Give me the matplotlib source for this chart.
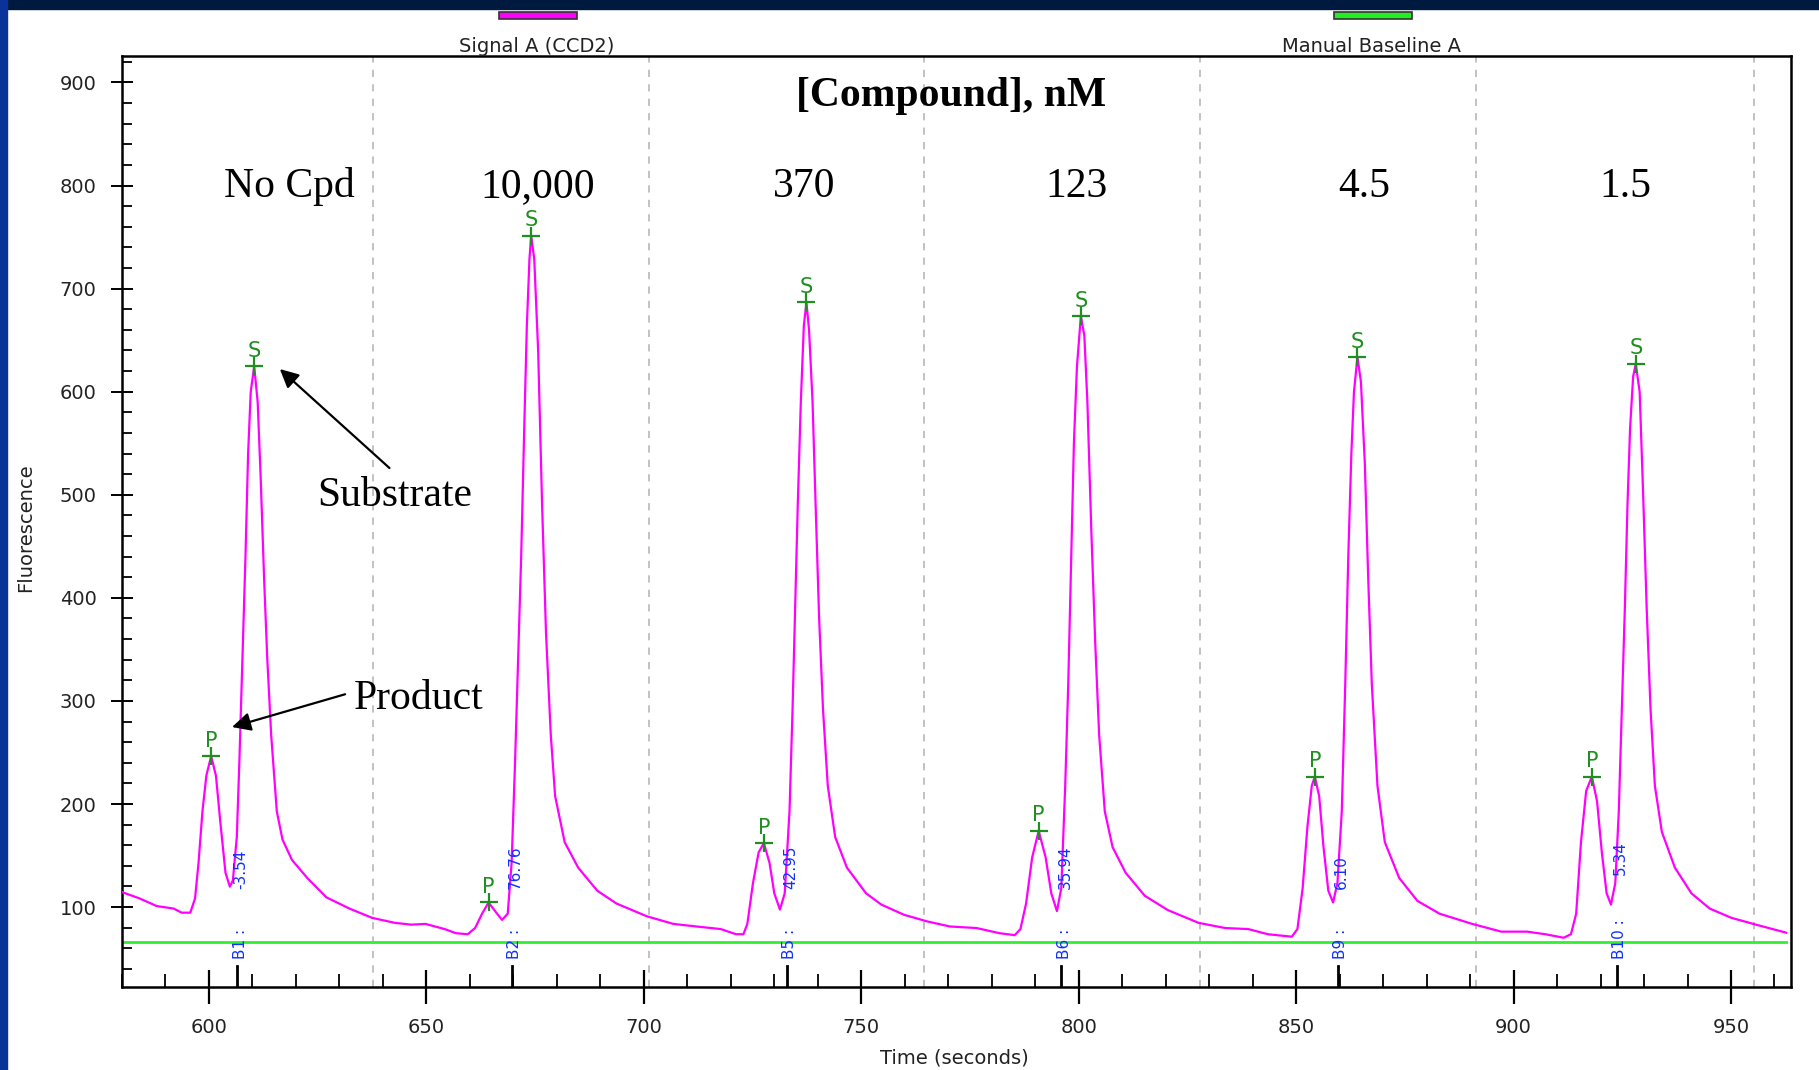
import matplotlib
matplotlib.use("Agg")
import matplotlib.pyplot as plt
from matplotlib.patches import Rectangle
from matplotlib.ticker import MultipleLocator

# electropherogram trace (time in s, fluorescence)
time_s = [
    580.1, 584.0, 588.0, 591.9, 593.7, 595.7, 596.8, 597.6, 598.5, 599.4,
    600.5, 601.6, 602.6, 603.8, 604.8, 605.5, 606.4, 607.0, 607.7, 608.4,
    609.0, 609.6, 610.4, 611.2, 611.9, 612.7, 613.4, 614.3, 615.6, 616.9,
    619.1, 622.6, 627.0, 632.3, 637.5, 642.8, 646.5, 649.8, 654.2, 656.8,
    659.5, 661.2, 662.8, 664.3, 665.8, 667.4, 668.7, 669.6, 670.4, 671.1,
    671.8, 672.5, 673.1, 673.7, 674.1, 674.8, 675.7, 676.6, 677.5, 678.6,
    679.6, 681.8, 684.9, 689.3, 693.7, 700.7, 706.8, 712.1,
    717.7, 721.2, 722.9, 723.8, 725.1, 726.4, 727.6, 728.9, 730.0, 731.3,
    732.4, 733.5, 734.2, 734.8, 735.4, 736.1, 736.8, 737.4, 738.0, 738.8,
    739.5, 740.3, 741.2, 742.3, 744.0, 746.7, 751.1, 754.6, 759.8, 765.1,
    770.4, 776.5, 781.8, 785.3, 786.6, 787.9, 789.3, 790.8, 792.4, 793.7,
    795.0, 796.0, 796.9, 797.6, 798.3, 798.9, 799.6, 800.5, 801.3, 802.0,
    802.9, 803.8, 804.7, 806.0, 807.8, 810.8, 815.2, 820.5, 827.6, 833.7,
    839.0, 843.5, 849.0, 850.3, 851.5, 852.6, 853.6, 854.3, 855.3, 856.3,
    857.4, 858.5, 859.5, 860.5, 861.3, 862.0, 862.7, 863.3, 864.1, 864.9,
    865.8, 866.6, 867.4, 868.7, 870.4, 873.7, 877.9, 883.0, 890.5, 897.2,
    903.1, 907.3, 911.5, 913.2, 914.4, 915.5, 916.7, 918.0, 919.2, 920.3,
    921.4, 922.4, 923.4, 924.2, 924.9, 925.6, 926.2, 926.8, 927.5, 928.1,
    929.0, 929.8, 930.6, 931.5, 932.5, 934.1, 937.1, 940.9, 945.1, 950.1,
    956.0, 962.7,
]
fluor = [
    114.4, 108.5, 101.0, 98.6, 94.6, 94.6, 108.5, 143.0, 192.9, 227.6,
    246.5, 227.6, 183.0, 133.3, 119.9, 125.9, 168.0, 242.5, 341.7, 441.0,
    540.0, 599.8, 624.6, 590.0, 515.4, 416.0, 341.7, 267.3, 192.9, 165.6,
    145.7, 128.3, 109.5, 98.6, 89.6, 84.7, 83.0, 83.7, 78.7, 74.7,
    73.7, 79.7, 93.6, 104.5, 96.1, 87.6, 93.6, 143.0, 242.5, 341.7,
    441.0, 565.0, 664.5, 728.8, 751.2, 728.8, 639.5, 490.7, 366.5, 267.3,
    207.7, 163.0, 138.3, 115.9, 103.5, 91.1, 83.7, 81.2,
    78.7, 73.7, 73.7, 83.7, 123.4, 153.1, 162.1, 143.0, 113.4, 97.6,
    113.4, 192.9, 292.1, 391.4, 490.6, 590.0, 664.5, 686.6, 659.5, 590.0,
    490.6, 381.4, 292.1, 217.7, 168.0, 138.3, 113.4, 102.5, 92.6, 86.2,
    81.2, 79.7, 74.7, 72.8, 78.7, 103.5, 148.2, 174.0, 148.2, 113.4,
    96.1, 118.4, 217.7, 316.9, 441.0, 550.0, 624.6, 673.3, 654.4, 590.0,
    465.8, 356.6, 267.3, 192.9, 158.1, 133.3, 111.0, 97.1, 84.7, 79.7,
    78.7, 73.7, 71.3, 78.7, 118.4, 178.0, 217.7, 226.6, 207.7, 158.1,
    116.0, 104.5, 123.4, 192.9, 316.9, 441.0, 540.0, 599.8, 633.6, 609.7,
    530.2, 416.0, 316.9, 217.7, 163.0, 128.3, 106.0, 93.6, 83.7, 76.2,
    76.2, 73.7, 70.3, 73.7, 93.6, 163.0, 212.7, 226.6, 202.8, 153.1,
    113.4, 102.5, 123.4, 192.9, 292.1, 391.4, 490.6, 565.0, 614.7, 627.1,
    599.8, 500.5, 391.4, 292.1, 217.7, 173.0, 138.3, 113.4, 98.6, 89.6,
    82.7, 75.2,
]

# manual baseline
baseline_t = [580.0, 962.7]
baseline_y = [66.3, 66.3]

# peak apexes
s_peak_t = [610.4, 674.1, 737.4, 800.5, 864.1, 928.1]
s_peak_y = [624.6, 751.2, 686.6, 673.3, 633.6, 627.1]
p_peak_t = [600.5, 664.3, 727.6, 790.8, 854.3, 918.0]
p_peak_y = [246.5, 104.5, 162.1, 174.0, 226.6, 226.6]

# baseline markers
b_t = [606.5, 669.6, 732.9, 796.0, 859.6, 923.7]
b_names = ["B1 :", "B2 :", "B5 :", "B6 :", "B9 :", "B10 :"]
b_values = ["-3.54", "76.76", "42.95", "35.94", "6.10", "5.34"]

# injection boundaries (dashed)
inj_t = [637.8, 701.2, 764.5, 828.0, 891.4, 955.2]

conc_labels = ["No Cpd", "10,000", "370", "123", "4.5", "1.5"]
conc_t = [618.4, 675.7, 736.8, 799.5, 865.6, 925.6]

W, H = 1819, 1070
fig = plt.figure(figsize=(W / 100, H / 100), dpi=100)
fig.patch.set_facecolor("white")

# slide frame: dark top band, blue left stripe
fig.patches.append(Rectangle((0, 1 - 9 / H), 1, 9 / H, transform=fig.transFigure,
                             color="#001a3f", zorder=0))
fig.patches.append(Rectangle((0, 0), 7 / W, 1, transform=fig.transFigure,
                             color="#0a3399", zorder=0))

left, right, top, bottom = 122, 1791, 55.7, 987
ax = fig.add_axes([left / W, 1 - bottom / H, (right - left) / W, (bottom - top) / H])
ax.set_xlim(580, 963.8)
ax.set_ylim(22.5, 926)

for t in inj_t:
    ax.axvline(t, color="#bdbdbd", lw=1.3, ls=(0, (4, 4)), zorder=1)

ax.plot(baseline_t, baseline_y, color="#33ee33", lw=2, zorder=2)
ax.plot(time_s, fluor, color="#ff00ff", lw=1.6, zorder=3)

green = "#1f8f1f"
for t, y in zip(s_peak_t, s_peak_y):
    ax.plot(t, y, marker="+", ms=13, mew=1.6, color=green, zorder=4)
    ax.annotate("S", (t, y), xytext=(0, 4), textcoords="offset points",
                ha="center", va="bottom", color=green, fontsize=15,
                family="DejaVu Sans")
for t, y in zip(p_peak_t, p_peak_y):
    ax.plot(t, y, marker="+", ms=13, mew=1.6, color=green, zorder=4)
    ax.annotate("P", (t, y), xytext=(0, 4), textcoords="offset points",
                ha="center", va="bottom", color=green, fontsize=15,
                family="DejaVu Sans")

for i, t in enumerate(b_t):
    ax.axvline(t, ymin=0, ymax=21 / (bottom - top), color="black", lw=2, zorder=4)
    ax.text(t + 0.7, 50, b_names[i], rotation=90, ha="center", va="bottom",
            color="#1030ff", fontsize=11, family="DejaVu Sans", zorder=5)
    yv = 131 if b_values[i] == "5.34" else 118
    ax.text(t + 0.9, yv, b_values[i], rotation=90, ha="center", va="bottom",
            color="#1030ff", fontsize=11, family="DejaVu Sans", zorder=5)

# big slide annotations
serif = "Liberation Serif"
ax.text(770.7, 887, "[Compound], nM", ha="center", va="center",
        fontsize=30, fontweight="bold", family=serif)
for lab, t in zip(conc_labels, conc_t):
    ax.text(t, 799, lab, ha="center", va="center", fontsize=30, family=serif)

arrow = dict(arrowstyle="-|>", color="black", lw=1.6, mutation_scale=28,
             shrinkA=0, shrinkB=0)
ax.annotate("", xy=(616.3, 622), xytext=(641.5, 526), arrowprops=arrow)
ax.text(642.7, 499, "Substrate", ha="center", va="center", fontsize=30, family=serif)
ax.annotate("", xy=(605.3, 274.7), xytext=(631.3, 306.5), arrowprops=arrow)
ax.text(648.2, 302, "Product", ha="center", va="center", fontsize=30, family=serif)

# axes styling
for sp in ax.spines.values():
    sp.set_linewidth(1.8)
    sp.set_color("black")
ax.xaxis.set_major_locator(MultipleLocator(50))
ax.xaxis.set_minor_locator(MultipleLocator(10))
ax.yaxis.set_minor_locator(MultipleLocator(20))
ax.set_yticks([100, 200, 300, 400, 500, 600, 700, 800, 900])
ax.tick_params(axis="x", which="major", direction="inout", length=24, width=1.6, pad=10)
ax.tick_params(axis="x", which="minor", direction="in", length=9.5, width=1.3)
ax.tick_params(axis="y", which="major", direction="inout", length=16.5, width=1.4, pad=10)
ax.tick_params(axis="y", which="minor", direction="in", length=7.5, width=1.3)
for lab in ax.get_xticklabels() + ax.get_yticklabels():
    lab.set_fontfamily("DejaVu Sans")
    lab.set_fontsize(14)
    lab.set_color("#222222")

ax.set_xlabel("Time (seconds)", fontsize=14, family="DejaVu Sans", color="#222222")
ax.set_ylabel("Fluorescence", fontsize=14, family="DejaVu Sans", color="#222222")
ax.xaxis.set_label_coords(0.499, -0.066)
ax.yaxis.set_label_coords(-0.052, 0.493)

# signal legend at the top
fig.patches.append(Rectangle((499 / W, 1 - 19 / H), 78 / W, 7 / H,
                             transform=fig.transFigure, facecolor="#ff00ff",
                             edgecolor="#333333", lw=1.2))
fig.text(537 / W, 1 - 46 / H, "Signal A (CCD2)", ha="center", va="center",
         fontsize=14, family="DejaVu Sans", color="#222222")
fig.patches.append(Rectangle((1334 / W, 1 - 19 / H), 78 / W, 7 / H,
                             transform=fig.transFigure, facecolor="#22ee22",
                             edgecolor="#333333", lw=1.2))
fig.text(1372 / W, 1 - 46 / H, "Manual Baseline A", ha="center", va="center",
         fontsize=14, family="DejaVu Sans", color="#222222")

fig.savefig("out.png", dpi=100)
